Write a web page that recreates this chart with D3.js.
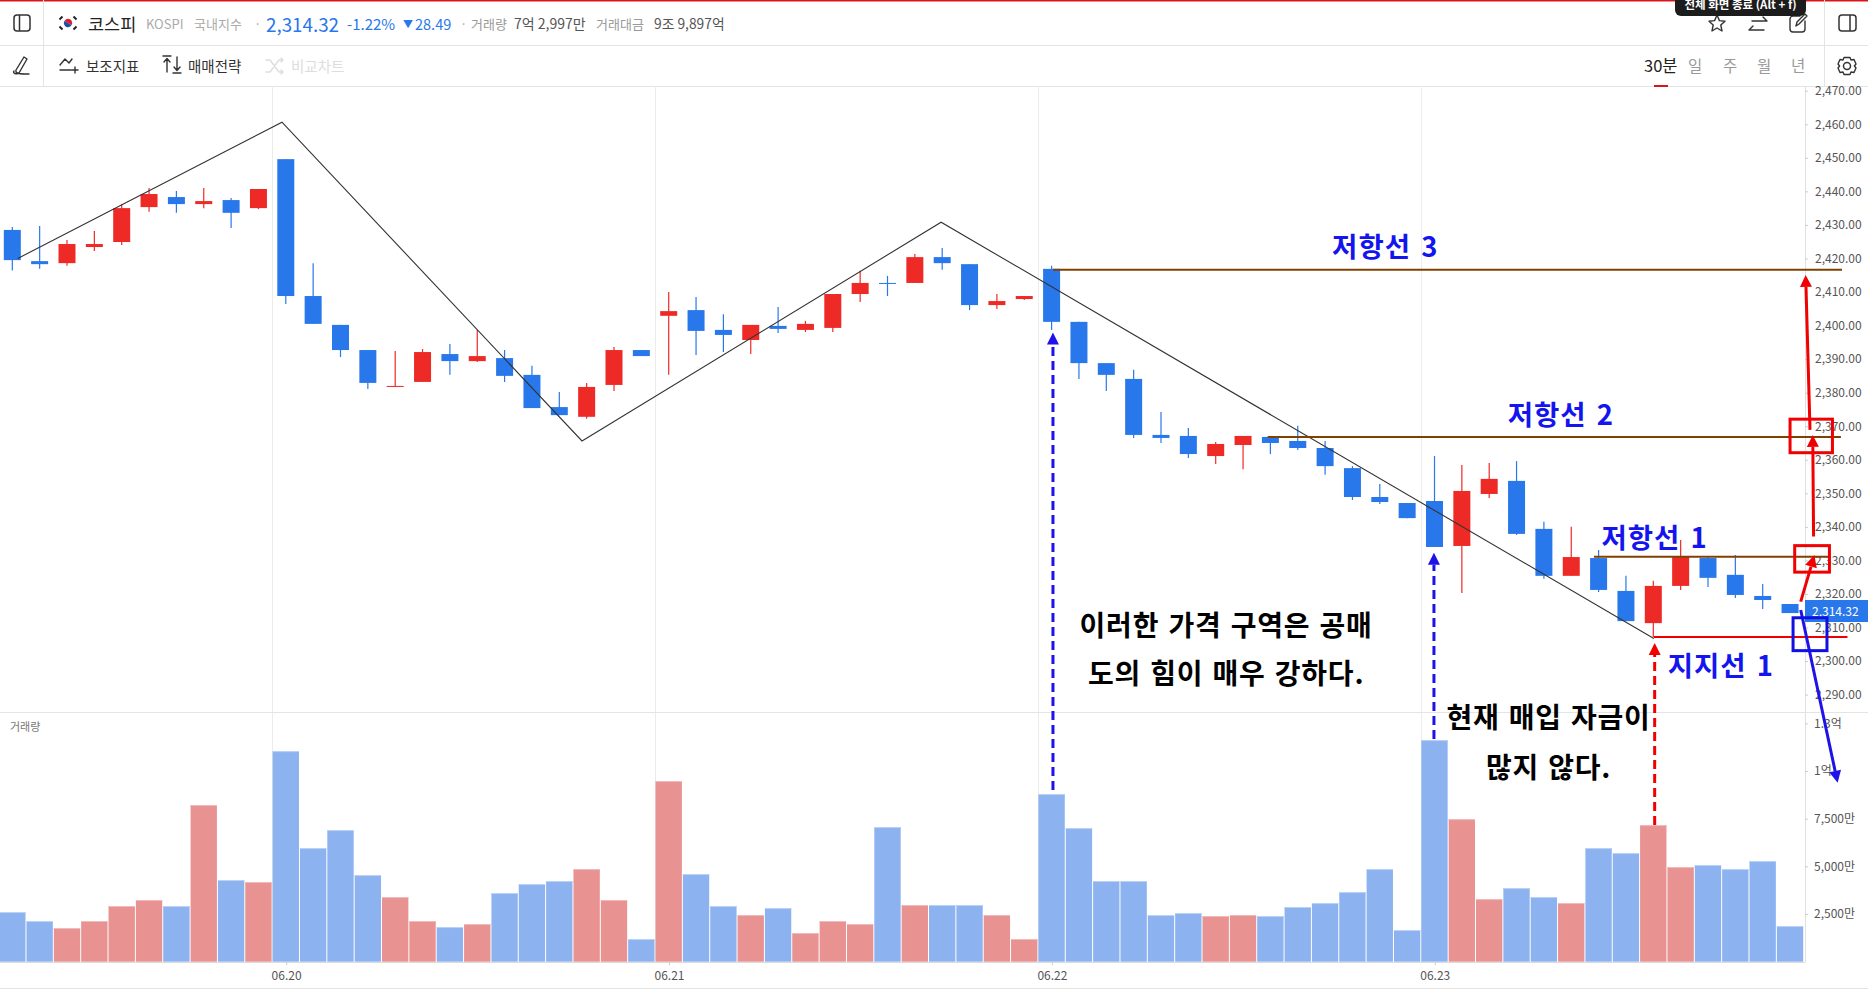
<!DOCTYPE html>
<html>
<head>
<meta charset="utf-8">
<script src="https://cdn.jsdelivr.net/npm/d3@7"></script>
<style>
  html, body { margin: 0; padding: 0; background: #fff; overflow: hidden; }
  text { font-family: "Noto Sans CJK KR", "Noto Sans", sans-serif; }
  .axis path { display: none; }
  .axis line { stroke: #ccc; }
  .axis text { fill: #555; font-size: 12px; }
</style>
</head>
<body>
<svg id="chart" width="1868" height="989"></svg>
<script>
var opens = [2428.5,2419.2,2418.6,2423.4,2424.9,2435.3,2438.3,2436.2,2437.4,2435.0,2449.6,2408.8,2400.2,2392.7,2381.7,2383.2,2391.5,2389.4,2390.3,2385.3,2375.7,2372.8,2382.3,2392.7,2402.9,2404.6,2398.7,2395.7,2399.9,2398.7,2399.3,2409.4,2412.7,2412.7,2420.4,2418.3,2406.1,2407.9,2416.9,2401.1,2388.8,2384.1,2367.4,2367.1,2361.1,2364.4,2366.8,2365.6,2363.5,2357.5,2348.9,2347.1,2347.7,2334.3,2349.8,2353.7,2339.4,2325.4,2330.7,2320.9,2311.3,2322.4,2330.7,2325.7,2319.4,2317.0];
var highs = [2429.4,2429.7,2425.5,2428.2,2436.2,2441.0,2440.1,2441.0,2438.0,2440.7,2449.6,2418.6,2400.2,2392.7,2392.4,2393.0,2394.5,2398.7,2392.7,2388.0,2380.2,2382.9,2393.6,2392.7,2410.0,2408.5,2403.4,2400.2,2405.5,2401.4,2409.4,2416.3,2414.8,2421.3,2423.1,2418.3,2409.4,2408.8,2417.8,2401.1,2388.8,2386.8,2374.2,2369.5,2365.3,2367.1,2366.8,2370.1,2365.6,2358.1,2352.8,2347.1,2361.1,2358.4,2359.0,2359.6,2341.5,2340.0,2333.1,2325.4,2323.9,2336.1,2331.0,2331.6,2323.0,2317.0];
var lows = [2416.4,2416.9,2417.8,2422.2,2424.0,2433.9,2433.6,2435.0,2429.1,2434.7,2406.4,2400.5,2390.6,2381.1,2381.7,2383.2,2385.3,2389.1,2383.2,2375.4,2373.3,2372.2,2380.5,2390.9,2385.3,2391.2,2392.1,2391.5,2397.8,2398.1,2398.1,2407.0,2408.8,2412.7,2416.6,2404.6,2404.9,2407.6,2398.7,2384.1,2380.5,2366.5,2365.0,2360.5,2358.7,2357.2,2361.7,2362.9,2355.5,2348.0,2346.8,2342.6,2334.0,2320.3,2348.6,2337.6,2324.5,2325.4,2320.6,2311.9,2307.2,2321.2,2322.1,2318.8,2315.5,2314.3];
var closes = [2419.5,2418.3,2424.3,2424.3,2435.0,2439.2,2436.2,2437.1,2433.6,2440.7,2408.8,2400.5,2392.7,2382.9,2382.0,2392.1,2389.4,2390.9,2385.0,2375.4,2373.3,2381.7,2392.7,2390.9,2404.3,2398.4,2397.2,2400.2,2399.0,2400.5,2409.4,2412.7,2412.4,2420.4,2418.6,2406.1,2407.3,2408.8,2401.1,2388.8,2385.3,2367.4,2366.5,2361.7,2364.7,2367.1,2365.0,2363.5,2358.1,2348.9,2347.4,2342.6,2334.0,2350.7,2354.3,2337.9,2325.4,2331.0,2321.2,2311.9,2322.4,2331.0,2324.8,2319.7,2318.2,2314.3];
// volume in units of 10,000 (만)
var volumes = [2605,2133,1766,2133,2920,3234,2920,8216,4283,4178,11047,5961,6905,4545,3391,2133,1818,1975,3601,4073,4230,4859,3234,1189,9474,4597,2920,2447,2814,1503,2133,1975,7062,2972,2972,2972,2447,1189,8792,7009,4230,4230,2447,2552,2395,2447,2395,2867,3076,3653,4859,1661,11624,7481,3286,3863,3391,3076,5961,5698,7167,4964,5069,4859,5279,1870];

var priceTicks = [2290,2300,2310,2320,2330,2340,2350,2360,2370,2380,2390,2400,2410,2420,2430,2440,2450,2460,2470];
var volumeTicks = [2500,5000,7500,10000,12500];
var volumeTickLabels = ['2,500만','5,000만','7,500만','1억','1.3억'];
var dateTicks = [10,24,38,52];
var dateLabels = ['06.20','06.21','06.22','06.23'];
var lastPrice = 2314.32;

// drawings on the chart, as [candle index, price]
var zigzag = [[0.2,2420.0],[9.86,2460.6],[20.83,2365.6],[33.96,2430.8],[60.02,2306.7]];
var levelLines = [
  {from: 38.05, to: 66.9, price: 2416.6, color: '#7f4000'},
  {from: 45.9, to: 66.86, price: 2366.8, color: '#7f4000'},
  {from: 57.83, to: 66.46, price: 2331.1, color: '#7f4000'},
  {from: 60.02, to: 67.1, price: 2307.2, color: '#f00000'}
];
var levelLabels = [
  {text: '저항선 3', i: 50.2, price: 2424.0},
  {text: '저항선 2', i: 56.62, price: 2374.0},
  {text: '저항선 1', i: 60.05, price: 2337.4},
  {text: '지지선 1', i: 62.47, price: 2299.0}
];
var noteLines = [
  {text: '이러한 가격 구역은 공매', i: 44.38, price: 2311.0},
  {text: '도의 힘이 매우 강하다.', i: 44.38, price: 2296.7},
  {text: '현재 매입 자금이', i: 56.17, price: 2283.6},
  {text: '많지 않다.', i: 56.17, price: 2268.7}
];
var dashedArrows = [
  {i: 38.05, price: 2397.9, vol: 9005, color: '#1e12e8'},
  {i: 51.98, price: 2332.3, vol: 11680, color: '#1e12e8'},
  {i: 60.05, price: 2305.4, vol: 7169, color: '#f00000'}
];
var solidArrows = [
  {a: [65.39,2317.7], b: [65.89,2331.6], color: '#f00000'},
  {a: [65.86,2337.1], b: [65.83,2367.4], color: '#f00000'},
  {a: [65.73,2368.9], b: [65.57,2415.1], color: '#f00000'},
  {a: [65.39,2315.2], b: [66.74,2263.7], color: '#1e12e8'}
];
var boxes = [
  {i0: 65.0, i1: 66.55, p0: 2372.1, p1: 2362.1, color: '#f00000'},
  {i0: 65.17, i1: 66.44, p0: 2334.4, p1: 2326.5, color: '#f00000'},
  {i0: 65.11, i1: 66.35, p0: 2312.9, p1: 2303.1, color: '#1010e0'}
];

var upColor = '#ee2a27', downColor = '#2878eb';
var upVol = '#e89292', downVol = '#8cb3f0';
var upVolTop = '#f2bcbc', downVolTop = '#bcd3f6';
var axisX = 1805, panelTop = 86, volTop = 712, baseY = 962;

var svg = d3.select('#chart');

var x = d3.scaleBand().domain(d3.range(opens.length)).range([-1.375, 1803.7]);
var xi = d3.scaleLinear().domain([0, 65]).range([12.3, 12.3 + 65 * 27.35]);
var y = d3.scaleLinear().domain([2290, 2470]).range([694.6, 90.7]);
var yVol = d3.scaleLinear().domain([0, 12500]).range([961.7, 723.4]);

function hline(yy, x0, x1, color) {
  svg.append('line').attr('x1', x0).attr('x2', x1).attr('y1', yy).attr('y2', yy)
    .attr('stroke', color).attr('stroke-width', 1);
}
function vline(xx, y0, y1, color) {
  svg.append('line').attr('x1', xx).attr('x2', xx).attr('y1', y0).attr('y2', y1)
    .attr('stroke', color).attr('stroke-width', 1);
}
function label(txt, xx, yy, size, color, opts) {
  opts = opts || {};
  return svg.append('text').text(txt).attr('x', xx).attr('y', yy)
    .attr('font-size', size).attr('fill', color)
    .attr('dominant-baseline', 'central')
    .attr('text-anchor', opts.anchor || 'start')
    .attr('font-weight', opts.weight || 400);
}
function icon(d, tx, ty, color, w) {
  svg.append('path').attr('d', d).attr('transform', 'translate(' + tx + ',' + ty + ')')
    .attr('fill', 'none').attr('stroke', color).attr('stroke-width', w || 1.4)
    .attr('stroke-linejoin', 'round').attr('stroke-linecap', 'round');
}

// header frame
svg.append('rect').attr('width', 1868).attr('height', 1.5).attr('fill', '#d8161a');
hline(45.5, 0, 1868, '#e4e4e4');
hline(86.5, 0, 1868, '#e4e4e4');
vline(43.5, 0, 86, '#e4e4e4');
vline(1824.5, 0, 86, '#e4e4e4');

// first row
icon('M3,0H13A3,3 0 0 1 16,3V13A3,3 0 0 1 13,16H3A3,3 0 0 1 0,13V3A3,3 0 0 1 3,0ZM5.5,0V16', 14, 15, '#333', 1.5);
svg.append('circle').attr('cx', 68).attr('cy', 23).attr('r', 9).attr('fill', '#fff');
svg.append('path').attr('d', 'M-4.2,0A4.2,4.2 0 0 1 4.2,0Z').attr('transform', 'translate(68,23) rotate(30)').attr('fill', '#d8202c');
svg.append('path').attr('d', 'M-4.2,0A4.2,4.2 0 0 0 4.2,0Z').attr('transform', 'translate(68,23) rotate(30)').attr('fill', '#1f4fa0');
[[-7,-5],[7,-5],[-7,5],[7,5]].forEach(function(d) {
  svg.append('line').attr('x1', 68 + d[0] - 1.5).attr('y1', 23 + d[1] + (d[0] * d[1] > 0 ? 1.5 : -1.5))
    .attr('x2', 68 + d[0] + 1.5).attr('y2', 23 + d[1] - (d[0] * d[1] > 0 ? 1.5 : -1.5))
    .attr('stroke', '#222').attr('stroke-width', 2);
});
label('코스피', 88, 23, 17.5, '#222');
label('KOSPI', 146, 23, 13, '#aaa');
label('국내지수', 194, 23, 13, '#aaa');
label('·', 254, 23, 13, '#aaa');
label('2,314.32', 266, 23, 18.8, '#2878eb');
label('-1.22%', 347, 23, 15, '#2878eb');
label('▼', 403, 23, 10, '#2878eb');
label('28.49', 415, 23, 14.5, '#2878eb');
label('·', 460, 23, 13, '#aaa');
label('거래량', 471, 23, 13, '#999');
label('7억 2,997만', 514, 23, 14, '#555');
label('거래대금', 596, 23, 13, '#999');
label('9조 9,897억', 654, 23, 13.8, '#555');

// second row
icon('M3,15C1,17 6,19 8,17L16,3L13,1L5,14C4,18 9,18 18,18', 11, 56, '#333', 1.4);
icon('M0,8L5,2L9,6L12,2M0,13H11M15,10V16M12,13H18', 60, 57, '#333', 1.4);
label('보조지표', 86, 65, 14.5, '#333');
icon('M4,16V3M1,6L4,2.5L7,6M0,0H8M14,1V14M11,11L14,14.5L17,11M10,17H18', 163, 56, '#333', 1.4);
label('매매전략', 188, 65, 14.5, '#333');
icon('M0,2H4L13,14H17M0,14H4L13,2H17M15,0L17,2L15,4M15,12L17,14L15,16', 266, 58, '#ddd', 1.4);
label('비교차트', 291, 65, 14.5, '#ddd');
label('30분', 1644, 65, 16.5, '#222');
label('일', 1688, 65, 15.5, '#999');
label('주', 1723, 65, 15.5, '#999');
label('월', 1757, 65, 15.5, '#999');
label('년', 1791, 65, 15.5, '#999');
svg.append('rect').attr('x', 1654).attr('y', 85).attr('width', 14).attr('height', 2).attr('fill', '#d8161a');

// right icons
icon('M9,1L11.4,6.6L17,7.2L12.8,11L14,17L9,14L4,17L5.2,11L1,7.2L6.6,6.6Z', 1708, 14, '#333', 1.4);
icon('M3,5H18M14,1L18,5M15,14H0M4,10L0,14', 1749, 16, '#333', 1.4);
icon('M15,6V14A3,3 0 0 1 12,17H3A3,3 0 0 1 0,14V4A3,3 0 0 1 3,1H10M6,11L7,7L15,-1L17,1L9,9Z', 1790, 15, '#333', 1.4);
icon('M3,0H14A3,3 0 0 1 17,3V13A3,3 0 0 1 14,16H3A3,3 0 0 1 0,13V3A3,3 0 0 1 3,0ZM11,0V16', 1839, 15, '#333', 1.5);
svg.append('circle').attr('cx', 1847).attr('cy', 66).attr('r', 3.5).attr('fill', 'none').attr('stroke', '#333').attr('stroke-width', 1.5);
icon('M-3,-8.5H3L4,-6L7,-6.5L9,-2L7.4,0L9,2L7,6.5L4,6L3,8.5H-3L-4,6L-7,6.5L-9,2L-7.4,0L-9,-2L-7,-6.5L-4,-6Z', 1847, 66, '#333', 1.4);

// gridlines and panel frame
dateTicks.forEach(function(i) { vline(Math.round(x(i)) + 0.5, panelTop, baseY, '#ececec'); });
hline(712.5, 0, 1868, '#e4e4e4');
hline(962.5, 0, 1805, '#dcdcdc');
hline(988.5, 0, 1868, '#e4e4e4');
vline(axisX + 0.5, panelTop, baseY, '#e0e0e0');

// volume bars
var bars = svg.append('g').selectAll('g').data(volumes).enter().append('g');
bars.append('rect')
  .attr('x', function(d, i) { return x(i) + 0.5; })
  .attr('width', x.bandwidth() - 1)
  .attr('y', function(d) { return yVol(d); })
  .attr('height', function(d) { return yVol(0) - yVol(d); })
  .attr('fill', function(d, i) { return closes[i] >= opens[i] ? upVol : downVol; });
bars.append('rect')
  .attr('x', function(d, i) { return x(i) + 0.5; })
  .attr('width', x.bandwidth() - 1)
  .attr('y', function(d) { return yVol(d); })
  .attr('height', 1)
  .attr('fill', function(d, i) { return closes[i] >= opens[i] ? upVolTop : downVolTop; });

label('거래량', 10, 726, 11, '#777');

// candles
var candles = svg.append('g').selectAll('g').data(opens).enter().append('g');
function candleColor(d, i) { return closes[i] >= d ? upColor : downColor; }
candles.append('line')
  .attr('x1', function(d, i) { return xi(i); })
  .attr('x2', function(d, i) { return xi(i); })
  .attr('y1', function(d, i) { return y(highs[i]); })
  .attr('y2', function(d, i) { return y(lows[i]); })
  .attr('stroke', candleColor)
  .attr('stroke-width', 1.2);
candles.append('rect')
  .attr('x', function(d, i) { return xi(i) - 8.5; })
  .attr('width', 17)
  .attr('y', function(d, i) { return y(Math.max(d, closes[i])); })
  .attr('height', function(d, i) { return Math.max(1, Math.abs(y(d) - y(closes[i]))); })
  .attr('fill', candleColor);

// axes
var priceAxis = d3.axisRight(y).tickValues(priceTicks).tickSize(3).tickPadding(7)
  .tickFormat(function(d) { return d3.format(',.2f')(d); });
svg.append('g').attr('class', 'axis').attr('transform', 'translate(' + axisX + ',0)').call(priceAxis);

var volAxis = d3.axisRight(yVol).tickValues(volumeTicks).tickSize(3).tickPadding(6)
  .tickFormat(function(d, i) { return volumeTickLabels[i]; });
svg.append('g').attr('class', 'axis').attr('transform', 'translate(' + axisX + ',0)').call(volAxis);

var dateAxis = d3.axisBottom(x).tickValues(dateTicks).tickSize(3).tickPadding(6)
  .tickFormat(function(d, i) { return dateLabels[i]; });
svg.append('g').attr('class', 'axis').attr('transform', 'translate(0.8,' + baseY + ')').call(dateAxis);

// last price tag
svg.append('rect').attr('x', axisX).attr('y', 600).attr('width', 63).attr('height', 22).attr('fill', downColor);
label(d3.format(',.2f')(lastPrice), axisX + 7, 610.5, 12, '#fff');

// drawings
var zigLine = d3.line().x(function(d) { return xi(d[0]); }).y(function(d) { return y(d[1]); });
svg.append('path').datum(zigzag).attr('d', zigLine)
  .attr('fill', 'none').attr('stroke', '#333').attr('stroke-width', 1.1);

svg.append('g').selectAll('line').data(levelLines).enter().append('line')
  .attr('x1', function(d) { return xi(d.from); })
  .attr('x2', function(d) { return xi(d.to); })
  .attr('y1', function(d) { return y(d.price); })
  .attr('y2', function(d) { return y(d.price); })
  .attr('stroke', function(d) { return d.color; })
  .attr('stroke-width', 2);

function arrow(x0, y0, x1, y1, color, dash) {
  var len = Math.sqrt((x1 - x0) * (x1 - x0) + (y1 - y0) * (y1 - y0));
  var ux = (x1 - x0) / len, uy = (y1 - y0) / len;
  var bx = x1 - ux * 12, by = y1 - uy * 12;
  svg.append('line').attr('x1', x0).attr('y1', y0).attr('x2', bx).attr('y2', by)
    .attr('stroke', color).attr('stroke-width', 3)
    .attr('stroke-dasharray', dash ? '9,5' : null);
  svg.append('path')
    .attr('d', 'M' + x1 + ',' + y1 + 'L' + (bx - uy * 6) + ',' + (by + ux * 6) + 'L' + (bx + uy * 6) + ',' + (by - ux * 6) + 'Z')
    .attr('fill', color);
}
dashedArrows.forEach(function(d) {
  arrow(xi(d.i), yVol(d.vol), xi(d.i), y(d.price), d.color, true);
});
solidArrows.forEach(function(d) {
  arrow(xi(d.a[0]), y(d.a[1]), xi(d.b[0]), y(d.b[1]), d.color, false);
});

svg.append('g').selectAll('rect').data(boxes).enter().append('rect')
  .attr('x', function(d) { return xi(d.i0); })
  .attr('y', function(d) { return y(d.p0); })
  .attr('width', function(d) { return xi(d.i1) - xi(d.i0); })
  .attr('height', function(d) { return y(d.p1) - y(d.p0); })
  .attr('fill', 'none')
  .attr('stroke', function(d) { return d.color; })
  .attr('stroke-width', 3);

levelLabels.forEach(function(d) {
  label(d.text, xi(d.i), y(d.price), 27.5, '#1414ee', {anchor: 'middle', weight: 700})
    .style('letter-spacing', '1px').style('word-spacing', '3px');
});
noteLines.forEach(function(d) {
  label(d.text, xi(d.i), y(d.price), 28, '#000', {anchor: 'middle', weight: 700})
    .style('letter-spacing', '0.8px').style('word-spacing', '2px');
});

// tooltip over the toolbar
svg.append('rect').attr('x', 1675).attr('y', -8).attr('width', 131).attr('height', 24).attr('rx', 6).attr('fill', '#1c1c1c');
label('전체 화면 종료 (Alt + f)', 1740.5, 4, 11.5, '#fff', {anchor: 'middle', weight: 700});
</script>
</body>
</html>
